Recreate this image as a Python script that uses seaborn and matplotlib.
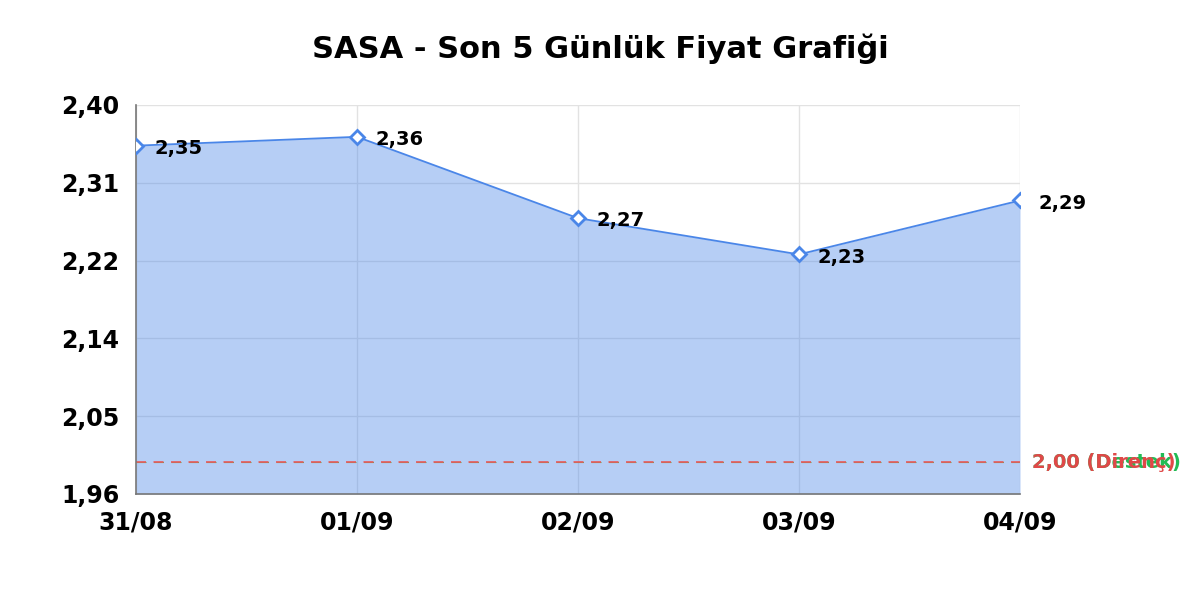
import matplotlib
matplotlib.use("Agg")
import matplotlib.pyplot as plt
import seaborn as sns
import pandas as pd

# data
dates = ["31/08", "01/09", "02/09", "03/09", "04/09"]
prices = [2.354, 2.364, 2.272, 2.231, 2.292]
support = 1.996
resistance = 1.996
y_ticks = [1.96, 2.048, 2.136, 2.224, 2.312, 2.40]

df = pd.DataFrame({"idx": range(len(dates)), "price": prices})

sns.set_style("white")
plt.rcParams["font.family"] = ["DejaVu Sans"]
plt.rcParams["text.color"] = "black"
plt.rcParams["lines.scale_dashes"] = False

fig = plt.figure(figsize=(12, 6), dpi=100)
ax = fig.add_axes([0.1133, 0.1767, 0.7367, 0.6483])

line_color = "#4a86e8"
ax.fill_between(df["idx"], df["price"], 1.96, color=line_color, alpha=0.4,
                lw=0, zorder=1)
sns.lineplot(data=df, x="idx", y="price", ax=ax, color=line_color, lw=1.3,
             marker="D", markersize=7, markerfacecolor="white",
             markeredgecolor=line_color, markeredgewidth=2, zorder=3)

for i, p in zip(df["idx"], df["price"]):
    ax.annotate(f"{p:.2f}".replace(".", ","), (i, p), xytext=(13, -2),
                textcoords="offset points", fontsize=14, fontweight="bold",
                va="center", ha="left", color="black", zorder=4)

# support (green) lies under resistance (red) at the same level
dash = (0, (7.2, 5.4))
ax.axhline(support, color="#6aa84f", ls=dash, lw=0.8, zorder=2)
ax.axhline(resistance, color="#e8595c", ls=dash, lw=1.2, zorder=2.1)
ax.annotate(f"{support:.2f} (Destek)".replace(".", ","), (1, support),
            xycoords=ax.get_yaxis_transform(), xytext=(9, 0),
            textcoords="offset points", color="#22bb55", fontsize=14,
            fontweight="bold", va="center", ha="left", annotation_clip=False)
ax.annotate(f"{resistance:.2f} (Direnç)".replace(".", ","), (1, resistance),
            xycoords=ax.get_yaxis_transform(), xytext=(9, 0),
            textcoords="offset points", color="#e04848", fontsize=14,
            fontweight="bold", va="center", ha="left", annotation_clip=False)

ax.set_xlim(0, len(dates) - 1)
ax.set_ylim(1.96, 2.40)
ax.set_xticks(range(len(dates)))
ax.set_xticklabels(dates, fontsize=17, fontweight="bold", color="black")
ax.set_yticks(y_ticks)
ax.set_yticklabels([f"{v:.2f}".replace(".", ",") for v in y_ticks],
                   fontsize=17, fontweight="bold", color="black")
ax.tick_params(axis="x", length=0, pad=12)
ax.tick_params(axis="y", length=0, pad=12)
ax.grid(True, color="#e2e2e2", lw=1, zorder=0)
ax.set_axisbelow(True)
ax.set_xlabel("")
ax.set_ylabel("")

for s in ["top", "right"]:
    ax.spines[s].set_visible(False)
for s in ["left", "bottom"]:
    ax.spines[s].set_color("#777777")
    ax.spines[s].set_linewidth(1.2)

fig.suptitle("SASA - Son 5 Günlük Fiyat Grafiği", fontsize=22,
             fontweight="bold", y=0.945, color="black")

fig.savefig("out.png", dpi=100)
